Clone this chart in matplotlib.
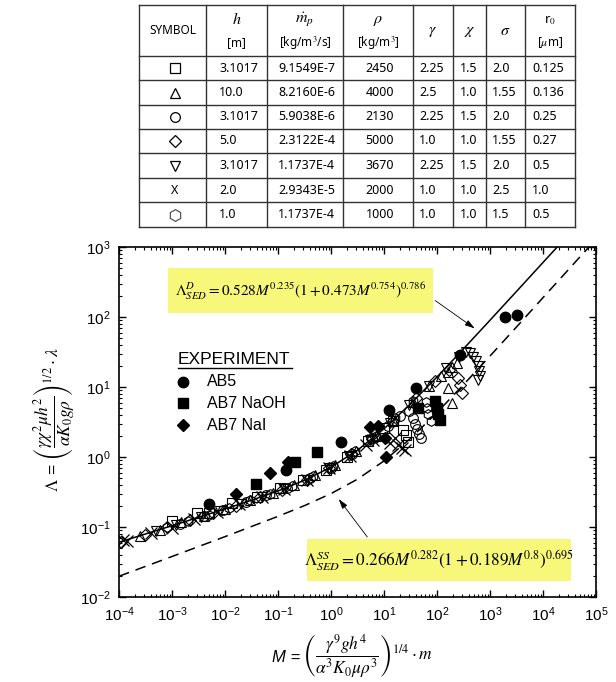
import matplotlib
matplotlib.use("Agg")
import matplotlib.pyplot as plt
import numpy as np
from matplotlib.ticker import FuncFormatter, LogLocator, NullFormatter

plt.rcParams["font.family"] = ["Liberation Sans", "DejaVu Sans"]
plt.rcParams["mathtext.fontset"] = "stix"

# ---- table data ----
table_header = [("SYMBOL", ""), (r"$h$", "[m]"), (r"$\dot{m}_p$", r"[kg/m$^3$/s]"),
                (r"$\rho$", r"[kg/m$^3$]"), (r"$\gamma$", ""), (r"$\chi$", ""),
                (r"$\sigma$", ""), (r"r$_0$", r"[$\mu$m]")]
sym_markers = ["s", "^", "o", "D", "v", "X", "h"]
col_h = ["3.1017", "10.0", "3.1017", "5.0", "3.1017", "2.0", "1.0"]
col_mp = ["9.1549E-7", "8.2160E-6", "5.9038E-6", "2.3122E-4", "1.1737E-4", "2.9343E-5", "1.1737E-4"]
col_rho = ["2450", "4000", "2130", "5000", "3670", "2000", "1000"]
col_gamma = ["2.25", "2.5", "2.25", "1.0", "2.25", "1.0", "1.0"]
col_chi = ["1.5", "1.0", "1.5", "1.0", "1.5", "1.0", "1.0"]
col_sigma = ["2.0", "1.55", "2.0", "1.55", "2.0", "2.5", "1.5"]
col_r0 = ["0.125", "0.136", "0.25", "0.27", "0.5", "1.0", "0.5"]

# ---- model curves ----
curve_M = [1e-4, 1e-3, 1e-2, 10**-1.5, 1e-1, 10**-0.5, 1, 10**0.5, 10, 10**1.5,
           100, 10**2.5, 1e3, 10**3.5, 1e4, 10**4.25, 2e4]
curve_D = [0.0606, 0.1043, 0.181, 0.241, 0.327, 0.465, 0.716, 1.25, 2.53, 5.73,
           13.9, 35.1, 89.9, 232, 601, 966, 1065]
dash_M = [1e-4, 1e-3, 1e-2, 1e-1, 10**-0.5, 1, 10**0.5, 10, 10**1.5, 100,
          10**2.5, 1e3, 10**3.5, 1e4, 10**4.5, 1e5]
dash_SS = [0.0198, 0.0379, 0.0728, 0.142, 0.202, 0.300, 0.482, 0.879, 1.84, 4.32,
           10.8, 27.7, 72.0, 189, 494, 1293]

# ---- simulations (open symbols) ----
sq_M = [1.0e-3, 2.9e-3, 5e-3, 1.35e-2, 4e-2, 0.11, 0.3, 0.8, 2.0, 5.0, 10, 15, 23, 26, 28]
sq_L = [0.122, 0.158, 0.16, 0.22, 0.268, 0.36, 0.47, 0.66, 1.0, 1.7, 2.6, 3.3, 2.43, 2.04, 1.66]
tri_M = [2.5e-4, 5.9e-4, 1.5e-3, 4e-3, 1e-2, 3e-2, 8e-2, 0.2, 0.5, 1.2, 3, 7, 15, 35, 70,
         120, 161, 192, 238, 161, 192]
tri_L = [0.075, 0.09, 0.116, 0.145, 0.18, 0.24, 0.31, 0.40, 0.55, 0.78, 1.22, 2.0, 3.4, 6.2,
         10.5, 14.5, 16.4, 19.3, 22, 9.7, 5.9]
circ_M = [1.4e-3, 4e-3, 9e-3, 2.5e-2, 6e-2, 0.15, 0.4, 1.0, 2.5, 6, 12, 20, 30, 35, 38.5,
          42, 45.5, 49.5]
circ_L = [0.11, 0.145, 0.175, 0.23, 0.29, 0.36, 0.5, 0.7, 1.1, 1.85, 2.8, 3.8, 4.6, 3.6,
          2.96, 2.51, 2.13, 1.87]
dia_M = [1.1e-4, 3.1e-4, 8e-4, 2.2e-3, 6e-3, 1.6e-2, 4.5e-2, 0.12, 0.35, 0.9, 2.4, 6, 15,
         40, 90, 170, 249, 272, 297]
dia_L = [0.062, 0.077, 0.1, 0.126, 0.16, 0.2, 0.265, 0.34, 0.47, 0.69, 1.1, 1.8, 3.3, 7.0,
         12.0, 17.5, 13.4, 10.7, 8.2]
dtri_M = [5e-4, 1.2e-3, 3.5e-3, 8e-3, 2e-2, 5e-2, 0.13, 0.35, 0.9, 2.2, 5.5, 13, 30, 70,
          150, 260, 360, 420, 479, 546, 600, 625, 647, 600]
dtri_L = [0.087, 0.108, 0.14, 0.17, 0.215, 0.27, 0.35, 0.47, 0.69, 1.05, 1.75, 3.1, 5.5,
          10.3, 18.5, 27, 32, 30.6, 26.8, 23.5, 20, 16.9, 14.4, 12.6]
x_M = [1.19e-4, 1.4e-4, 4e-4, 1e-3, 2.6e-3, 7e-3, 1.8e-2, 5e-2, 0.13, 0.35, 0.9, 2.3, 4.5,
       6.2, 9, 13, 16, 18.4, 22, 25]
x_L = [0.065, 0.063, 0.082, 0.097, 0.13, 0.165, 0.21, 0.27, 0.35, 0.47, 0.7, 1.05, 1.5,
       1.75, 1.9, 1.6, 1.87, 1.48, 1.35, 1.26]
hex_M = [8e-4, 2e-3, 5e-3, 1.2e-2, 3e-2, 7e-2, 0.18, 0.45, 1.1, 2.8, 7, 16, 35, 61, 65, 69, 77]
hex_L = [0.1, 0.122, 0.15, 0.185, 0.24, 0.3, 0.39, 0.53, 0.74, 1.2, 2.0, 3.6, 6.3, 6.1,
         5.0, 4.1, 3.3]

# ---- experiments (filled symbols) ----
ab5_M = [0.005, 0.1416, 1.545, 12.4, 40.2, 272, 1918, 3230]
ab5_L = [0.213, 0.652, 1.64, 4.69, 9.68, 28.6, 100, 107]
naoh_M = [0.0385, 0.209, 0.545, 43.9, 91.6, 100, 104, 114]
naoh_L = [0.411, 0.849, 1.18, 5.0, 6.3, 5.0, 4.1, 3.38]
nai_M = [0.0161, 0.0706, 0.154, 5.45, 7.7, 10.4, 10.9]
nai_L = [0.296, 0.59, 0.849, 2.68, 2.77, 1.87, 1.0]

W, H = 616, 682
fig = plt.figure(figsize=(W / 100, H / 100), dpi=100)

# ---------------- table (pixel coordinates) ----------------
tb = fig.add_axes([0, 0, 1, 1])
tb.set_xlim(0, W)
tb.set_ylim(H, 0)
tb.axis("off")
col_x = [139, 206, 267, 343, 413, 453, 486, 525, 575]
row_y = [5, 56, 80, 105, 129, 153, 178, 202, 227]
for x in col_x:
    tb.plot([x, x], [row_y[0], row_y[-1]], color="#333333", lw=1.0)
for y in row_y:
    tb.plot([col_x[0], col_x[-1]], [y, y], color="#333333", lw=1.0)

hfont = dict(family=["Noto Sans", "DejaVu Sans"], fontsize=8.5, ha="center", va="center")
for i, (top, bot) in enumerate(table_header):
    cx = (col_x[i] + col_x[i + 1]) / 2
    size = 11.5 if top.startswith("$") else (9.5 if bot else 8.5)
    if bot:
        tb.text(cx, 20, top, **{**hfont, "fontsize": size})
        tb.text(cx, 43, bot, **hfont)
    else:
        tb.text(cx, 31, top, **{**hfont, "fontsize": size})

row_c = [(row_y[k] + row_y[k + 1]) / 2 for k in range(1, 8)]
cfont = dict(family=["Noto Sans", "DejaVu Sans"], fontsize=9, va="center")
for k, yc in enumerate(row_c):
    m = sym_markers[k]
    if m == "X":
        tb.text(175, yc, "X", ha="center", **cfont)
    else:
        tb.plot(175, yc, m, ms={"D": 6, "h": 8.5}.get(m, 7), mfc="none",
                mec="#555555" if m == "h" else "black", mew=0.9)
    tb.text(219, yc, col_h[k], ha="left", **cfont)
    tb.text(278, yc, col_mp[k], ha="left", **cfont)
    tb.text(380, yc, col_rho[k], ha="center", **cfont)
    tb.text(419, yc, col_gamma[k], ha="left", **cfont)
    tb.text(460, yc, col_chi[k], ha="left", **cfont)
    tb.text(492, yc, col_sigma[k], ha="left", **cfont)
    tb.text(532, yc, col_r0[k], ha="left", **cfont)

# ---------------- main plot ----------------
ax = fig.add_axes([119 / W, 1 - 597 / H, 477 / W, 350 / H])
ax.set_xscale("log")
ax.set_yscale("log")
ax.set_xlim(1e-4, 1e5)
ax.set_ylim(1e-2, 1e3)

ax.plot(curve_M, curve_D, color="black", lw=1.1, zorder=3)
ax.plot(dash_M, dash_SS, color="black", lw=1.1, dashes=(7, 4.5), zorder=3)

open_kw = dict(ls="none", mfc="none", mec="black", mew=0.8, zorder=4)
ax.plot(sq_M, sq_L, "s", ms=6.5, **open_kw)
ax.plot(tri_M, tri_L, "^", ms=7, **open_kw)
ax.plot(circ_M, circ_L, "o", ms=7, **open_kw)
ax.plot(dia_M, dia_L, "D", ms=6, **open_kw)
ax.plot(dtri_M, dtri_L, "v", ms=7, **open_kw)
ax.plot(x_M, x_L, "x", ms=8, ls="none", color="black", mew=0.9, zorder=4)
ax.plot(hex_M, hex_L, "h", ms=7, **open_kw)

fill_kw = dict(ls="none", color="black", zorder=5)
ax.plot(ab5_M, ab5_L, "o", ms=7.5, **fill_kw)
ax.plot(naoh_M, naoh_L, "s", ms=7, **fill_kw)
ax.plot(nai_M, nai_L, "D", ms=6.5, **fill_kw)


def fr(px, py):
    return ((px - 119) / 477, (597 - py) / 350)


# legend
ax.text(*fr(178, 360), "EXPERIMENT", transform=ax.transAxes, fontsize=12.5, ha="left", va="center")
ax.plot(*zip(fr(178, 367.5), fr(292, 367.5)), transform=ax.transAxes, color="black", lw=1.0)
for (py, mk, ms, lab) in [(382, "o", 7.5, "AB5"), (403, "s", 7, "AB7 NaOH"), (425, "D", 6.5, "AB7 NaI")]:
    ax.plot(*fr(183, py), mk, ms=ms, color="black", transform=ax.transAxes, clip_on=False)
    ax.text(*fr(207, py), lab, transform=ax.transAxes, fontsize=11.5, ha="left", va="center")

# equation boxes
for (x0, y0, x1, y1, size, eq) in [
        (168, 268, 433, 313, 11,
         r"$\Lambda^{D}_{SED} = 0.528M^{0.235}\left(1+0.473M^{0.754}\right)^{0.786}$"),
        (307, 539, 571, 581, 12.3,
         r"$\Lambda^{SS}_{SED} = 0.266M^{0.282}\left(1+0.189M^{0.8}\right)^{0.695}$")]:
    a = fr(x0, y1)
    b = fr(x1, y0)
    ax.add_patch(plt.Rectangle(a, b[0] - a[0], b[1] - a[1], transform=ax.transAxes,
                               facecolor="#f7f77a", edgecolor="none", zorder=6))
    ax.text(*fr((x0 + x1) / 2, (y0 + y1) / 2 + 1), eq, transform=ax.transAxes,
            fontsize=size, ha="center", va="center", zorder=7)

arrow = dict(arrowstyle="-|>,head_length=0.6,head_width=0.18", color="black", lw=0.6)
ax.annotate("", xy=(569, 65), xytext=(84, 181), arrowprops=arrow, zorder=7)
ax.annotate("", xy=(1.3, 0.27), xytext=(5.2, 0.067), arrowprops=arrow, zorder=7)

# axes styling
for s in ax.spines.values():
    s.set_linewidth(1.2)
ax.xaxis.set_major_locator(LogLocator(base=10, numticks=20))
ax.yaxis.set_major_locator(LogLocator(base=10, numticks=20))
ax.xaxis.set_minor_locator(LogLocator(base=10, subs=np.arange(2, 10), numticks=20))
ax.yaxis.set_minor_locator(LogLocator(base=10, subs=np.arange(2, 10), numticks=20))
ax.xaxis.set_minor_formatter(NullFormatter())
ax.yaxis.set_minor_formatter(NullFormatter())
fmt = FuncFormatter(lambda v, p: r"$\mathregular{10^{%d}}$" % int(round(np.log10(v))))
ax.xaxis.set_major_formatter(fmt)
ax.yaxis.set_major_formatter(fmt)
ax.tick_params(which="both", direction="in", top=True, right=True, labelsize=11)
ax.tick_params(which="major", length=5, width=1.0, pad=6)
ax.tick_params(which="minor", length=2.5, width=0.8)

# axis labels
fig.text(300 / W, 1 - 657 / H, "M =", fontsize=12, style="italic", ha="right", va="center")
fig.text(302 / W, 1 - 657 / H,
         r"$\left(\dfrac{\gamma^9 g h^4}{\alpha^3 K_0 \mu \rho^3}\right)^{1/4}\cdot m$",
         fontsize=12.5, ha="left", va="center")
fig.text(53 / W, 1 - 420 / H,
         r"$\Lambda$ = $\left(\dfrac{\gamma\chi^2 \mu h^2}{\alpha K_0 g \rho}\right)^{1/2}\cdot\lambda$",
         fontsize=12.5, rotation=90, ha="center", va="center")

fig.savefig("out.png", dpi=100)
